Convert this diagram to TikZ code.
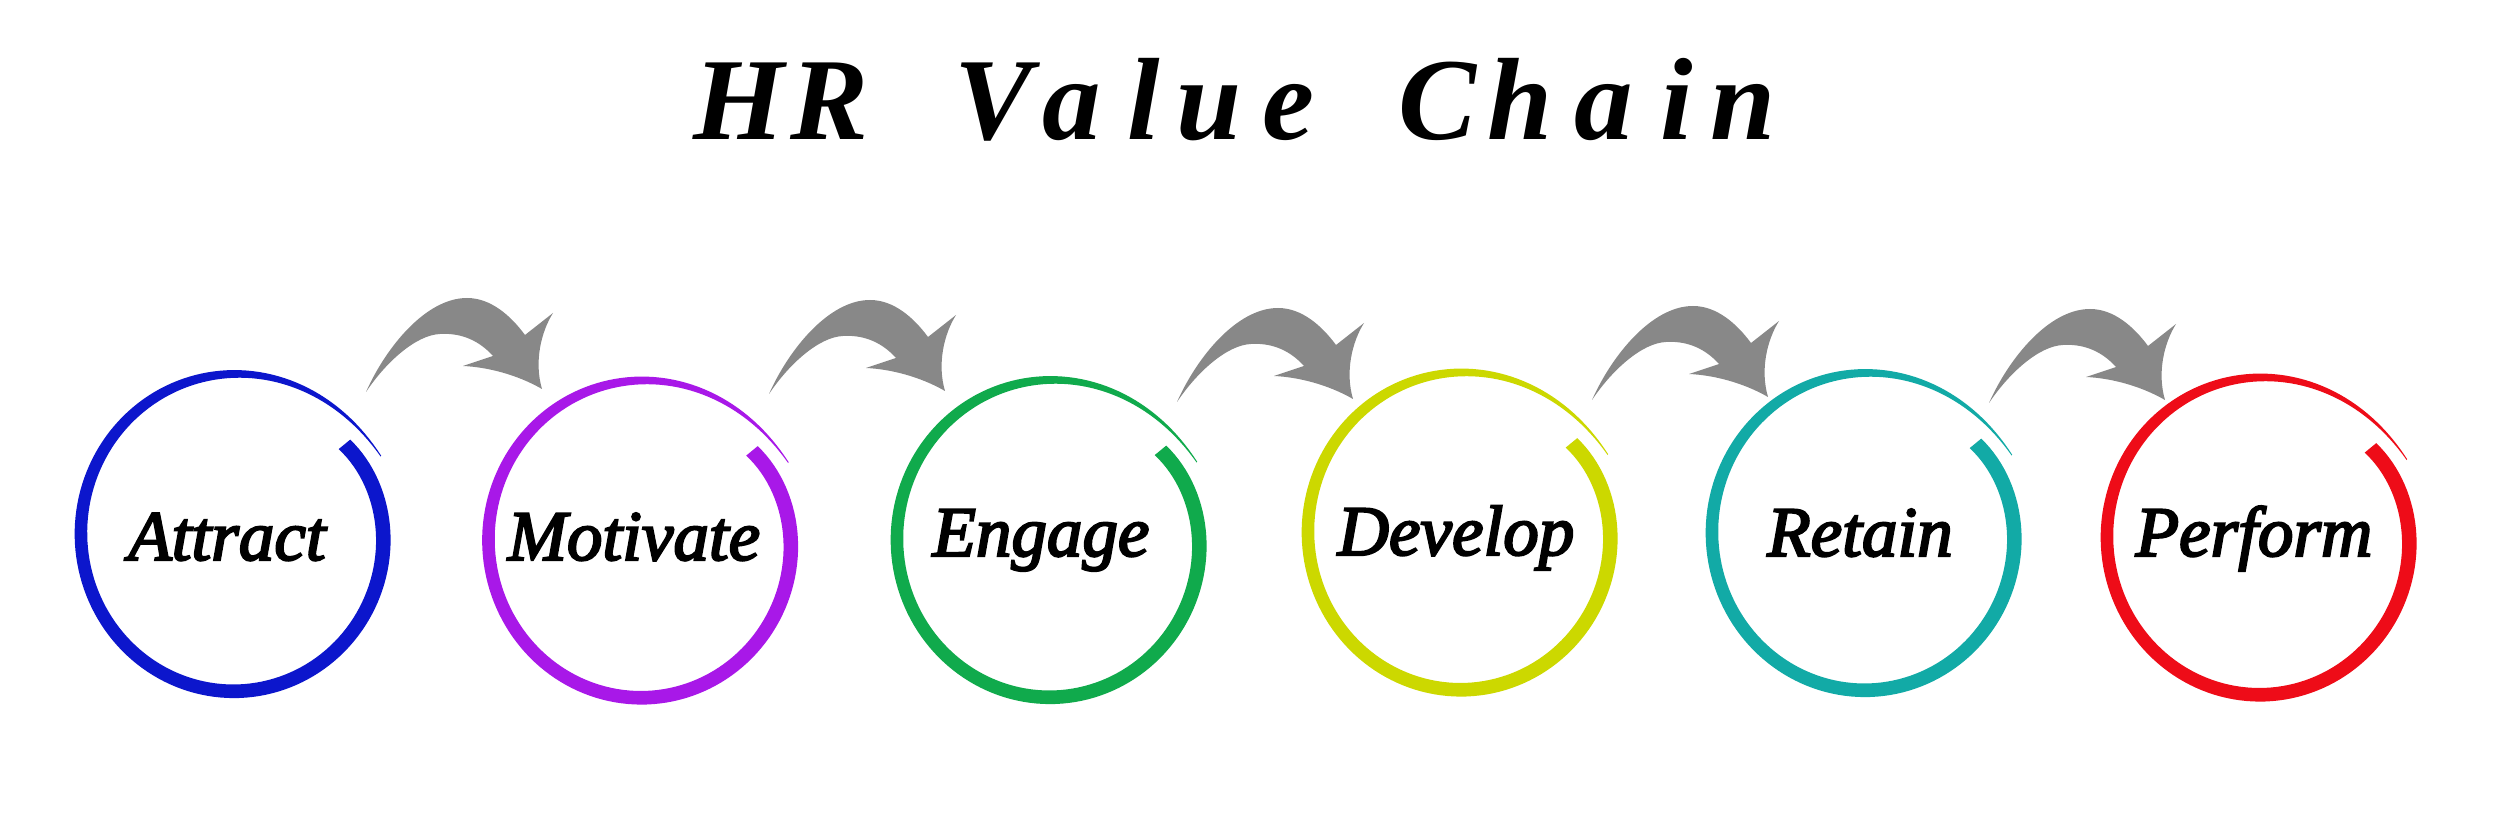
\documentclass[tikz,border=0pt]{standalone}
\usepackage{fontspec}
\setmainfont{Liberation Serif}
\newfontfamily\labelfont[FakeBold=3]{Liberation Serif}
\definecolor{ringblue}{RGB}{12,22,204}
\definecolor{ringpurple}{RGB}{168,24,232}
\definecolor{ringgreen}{RGB}{16,170,76}
\definecolor{ringlime}{RGB}{204,216,0}
\definecolor{ringteal}{RGB}{18,170,166}
\definecolor{ringred}{RGB}{238,12,24}
\definecolor{arrowgray}{RGB}{136,136,136}
\tikzset{
  declare function={
    roff(\t)=-13*exp(-12*\t)+12*exp(-12*(1-\t));
    bw(\t)=15-4*\t-50*(max(0,\t-0.55))^2;
    ang(\t)=38-371*\t;
  },
  labeltext/.style={anchor=base,inner sep=0pt,font=\labelfont\itshape\fontsize{28.4pt}{30pt}\selectfont},
  titlech/.style={anchor=base,inner sep=0pt,font=\bfseries\itshape\fontsize{46.8pt}{50pt}\selectfont},
  pics/bigarrow/.style={code={
    \fill[arrowgray] (0,0) .. controls (20,-45) and (60,-94) .. (101,-94)
      .. controls (125,-94) and (145,-76) .. (159,-57) -- (187,-79)
      .. controls (175,-60) and (168,-30) .. (176,-3)
      .. controls (150,-18) and (120,-25) .. (97,-26) -- (127,-36)
      .. controls (110,-55) and (90,-59) .. (74,-58)
      .. controls (50,-57) and (20,-30) .. (0,0) -- cycle;
  }}
}
\newcommand{\brushring}[3]{%
  \fill[#3] plot[domain=0:1,samples=160,variable=\t]
    ({#1+(153+roff(\t)+bw(\t)/2)*cos(ang(\t))},{#2-(158+roff(\t)+bw(\t)/2)*sin(ang(\t))})
    -- plot[domain=1:0,samples=160,variable=\t]
    ({#1+(153+roff(\t)-bw(\t)/2)*cos(ang(\t))},{#2-(158+roff(\t)-bw(\t)/2)*sin(ang(\t))})
    -- cycle;}
\begin{document}
\begin{tikzpicture}[x=0.4pt,y=-0.4pt]
\fill[white] (0,0) rectangle (2500,824);
\useasboundingbox (0,0) rectangle (2500,824);
% title
\foreach \ch/\xx [count=\i] in {H/744,R/835,V/999,a/1077,l/1149,u/1214,e/1293,C/1443,h/1525,a/1609,i/1682,n/1748}
  \node[titlech] (t\i) at (\xx-5,140) {\ch};
% rings
\brushring{234}{533.5}{ringblue}
\brushring{641.5}{540}{ringpurple}
\brushring{1050}{539.5}{ringgreen}
\brushring{1461}{532}{ringlime}
\brushring{1865}{532.5}{ringteal}
\brushring{2260}{537}{ringred}
% labels
\node[labeltext] (l1) at (227,560) {Attract};
\node[labeltext] (l2) at (634,560) {Motivate};
\node[labeltext] (l3) at (1041,556) {Engage};
\node[labeltext] (l4) at (1456,555) {Develop};
\node[labeltext] (l5) at (1860,556) {Retain};
\node[labeltext] (l6) at (2254,556) {Perform};
% arrows
\pic at (366,392) {bigarrow};
\pic at (769,394) {bigarrow};
\pic at (1177,402) {bigarrow};
\pic at (1592,400) {bigarrow};
\pic at (1989,403) {bigarrow};
\end{tikzpicture}
\end{document}
